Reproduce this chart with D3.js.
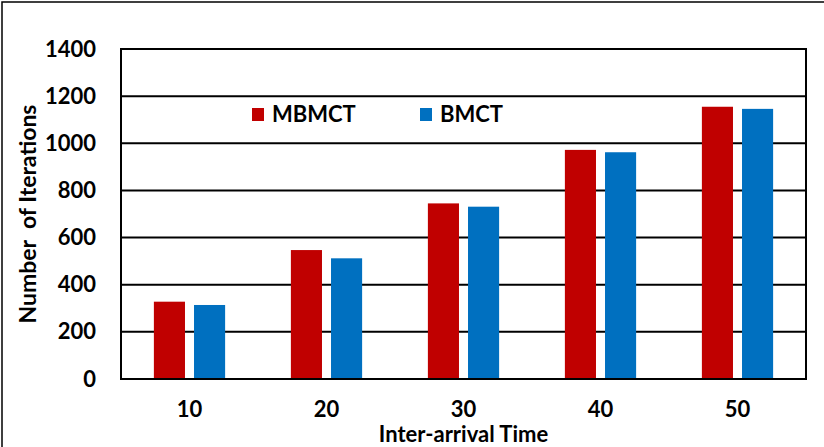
<!DOCTYPE html>
<html>
<head>
<meta charset="utf-8">
<script src="https://cdn.jsdelivr.net/npm/d3@7"></script>
<style>
  html, body { margin: 0; padding: 0; background: #fff; }
  svg { display: block; font-family: Lato, "Open Sans", sans-serif; font-weight: bold; }
</style>
</head>
<body>
<div id="chart"></div>
<script>
const categories = ["10", "20", "30", "40", "50"]
const seriesNames = ["MBMCT", "BMCT"]
const mbmct = [328, 547, 745, 972, 1155]
const bmct = [314, 512, 731, 962, 1146]
const yTicks = [0, 200, 400, 600, 800, 1000, 1200, 1400]

const width = 824, height = 447
const margin = { top: 49, right: 18, bottom: 68, left: 121 }
const colors = { MBMCT: "#C00000", BMCT: "#0070C0" }

const rows = categories.map((c, i) => ({ cat: c, MBMCT: mbmct[i], BMCT: bmct[i] }))

const svg = d3.select("#chart").append("svg")
    .attr("width", width)
    .attr("height", height)

// marco exterior (solo izquierda y arriba visibles)
svg.append("path")
    .attr("d", `M2,${height} L2,2 L${width},2`)
    .attr("fill", "none")
    .attr("stroke", "#000")
    .attr("stroke-width", 1.5)

const x0 = d3.scaleBand()
    .domain(categories)
    .range([margin.left, width - margin.right])
    .paddingInner(0.48)
    .paddingOuter(0.24)

const x1 = d3.scaleBand()
    .domain(seriesNames)
    .range([0, x0.bandwidth()])
    .paddingInner(0.225)

const y = d3.scaleLinear()
    .domain([0, 1400])
    .range([height - margin.bottom, margin.top])

// rejilla
svg.append("g")
    .selectAll("line")
    .data(yTicks)
    .join("line")
    .attr("x1", margin.left)
    .attr("x2", width - margin.right)
    .attr("y1", d => y(d))
    .attr("y2", d => y(d))
    .attr("stroke", "#000")
    .attr("stroke-width", 2)

// barras
svg.append("g")
    .selectAll("g")
    .data(rows)
    .join("g")
    .attr("transform", d => `translate(${x0(d.cat)},0)`)
    .selectAll("rect")
    .data(d => seriesNames.map(k => ({ key: k, value: d[k] })))
    .join("rect")
    .attr("x", d => x1(d.key))
    .attr("width", x1.bandwidth())
    .attr("y", d => y(d.value))
    .attr("height", d => y(0) - y(d.value))
    .attr("fill", d => colors[d.key])

// marco del área de trazado
svg.append("rect")
    .attr("x", margin.left)
    .attr("y", margin.top)
    .attr("width", width - margin.left - margin.right)
    .attr("height", height - margin.top - margin.bottom)
    .attr("fill", "none")
    .attr("stroke", "#000")
    .attr("stroke-width", 2)

// eje Y
const yAxis = d3.axisLeft(y).tickValues(yTicks).tickFormat(d3.format("d")).tickSize(0).tickPadding(25)
svg.append("g")
    .attr("transform", `translate(${margin.left},0)`)
    .call(yAxis)
    .call(g => g.select(".domain").remove())
    .selectAll("text")
    .attr("font-size", 22)
    .attr("font-family", "Lato, sans-serif")
    .attr("font-weight", "bold")
    .attr("fill", "#000")

// eje X
const xAxis = d3.axisBottom(x0.copy().paddingInner(0).paddingOuter(0)).tickSize(0).tickPadding(22)
svg.append("g")
    .attr("transform", `translate(0,${height - margin.bottom})`)
    .call(xAxis)
    .call(g => g.select(".domain").remove())
    .selectAll("text")
    .attr("font-size", 22)
    .attr("font-family", "Lato, sans-serif")
    .attr("font-weight", "bold")
    .attr("fill", "#000")

// títulos
svg.append("text")
    .attr("x", (margin.left + width - margin.right) / 2)
    .attr("y", 442)
    .attr("text-anchor", "middle")
    .attr("font-size", 22)
    .text("Inter-arrival Time")

svg.append("text")
    .attr("transform", `translate(36,${(margin.top + height - margin.bottom) / 2}) rotate(-90)`)
    .attr("text-anchor", "middle")
    .attr("font-size", 23)
    .attr("xml:space", "preserve")
    .text("Number  of Iterations")

// leyenda
const legendX = [252, 420]
const legend = svg.append("g")
    .selectAll("g")
    .data(seriesNames)
    .join("g")
    .attr("transform", (d, i) => `translate(${legendX[i]},108)`)

legend.append("rect")
    .attr("width", 12)
    .attr("height", 13)
    .attr("fill", d => colors[d])

legend.append("text")
    .attr("x", 20)
    .attr("y", 14)
    .attr("font-size", 22)
    .text(d => d)
</script>
</body>
</html>
